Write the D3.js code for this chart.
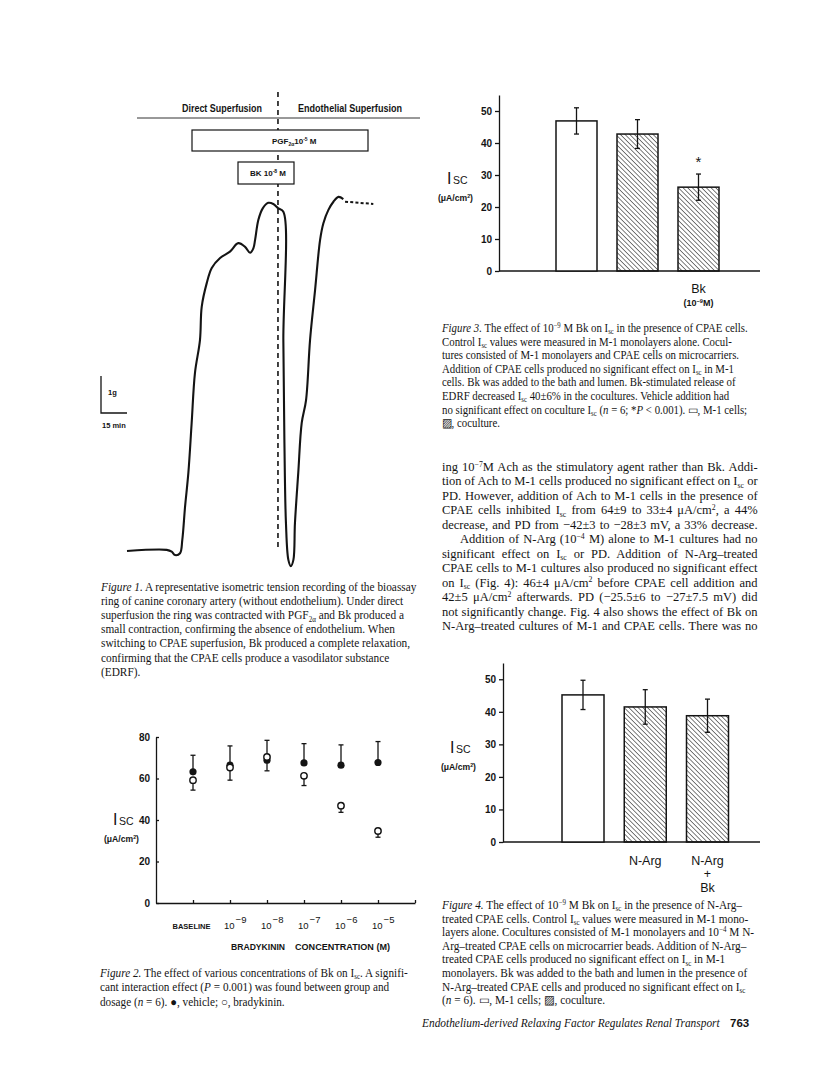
<!DOCTYPE html>
<html>
<head>
<meta charset="utf-8">
<script src="https://cdn.jsdelivr.net/npm/d3@7"></script>
<style>
body { margin: 0; background: #fff; }
svg { display: block; }
</style>
</head>
<body>
<svg id="page" width="816" height="1078"></svg>
<script>
// ---------- data ----------
// Figure 1: tension trace (minutes, grams above baseline)
var traceTime = [0, 22.9, 25.8, 27.7, 30.6, 31.9, 33.5, 35.4, 37.3, 39.2, 42.1, 43.1, 46.0, 48.9, 53.7,
  59.4, 64.2, 68.1, 71.0, 72.9, 73.9, 75.8, 78.3, 81.5, 84.4, 87.3, 90.2, 90.2, 90.8, 91.7,
  93.1, 94.5, 96.0, 96.9, 98.8, 100.8, 103.3, 105.6, 108.5, 111.4, 113.3, 116.2, 119.1, 122.0, 124.8];
var traceTension = [0, 0.03, -0.02, -0.11, -0.06, 0.30, 1.20, 2.11, 3.46, 4.81, 5.70, 6.60, 7.24, 7.65, 7.92,
  8.09, 8.32, 8.22, 8.06, 8.18, 8.41, 8.95, 9.26, 9.41, 9.38, 9.26, 9.17, 5.70, 3.00, 0.76,
  -0.24, -0.41, -0.24, 0.76, 2.11, 3.46, 4.08, 5.70, 7.05, 8.41, 8.86, 9.22, 9.44, 9.57, 9.51];
var tailTime = [125.8, 134.4, 142.1];
var tailTension = [9.44, 9.41, 9.38];
var switchTime = 87.1;

// Figure 2: Isc vs bradykinin concentration
var doseLabels = ["BASELINE", "10^{−9}", "10^{−8}", "10^{−7}", "10^{−6}", "10^{−5}"];
var vehicleMean = [63.2, 66.4, 68.8, 67.5, 66.4, 67.7];
var vehicleSE = [8.0, 9.3, 9.6, 9.3, 9.8, 10.1];
var bkMean = [59.2, 65.3, 70.4, 61.3, 46.9, 34.7];
var bkSE = [4.8, 6.1, 6.7, 4.7, 3.2, 3.0];
var fig2Ticks = [0, 20, 40, 60, 80];

// Figure 3
var fig3Mean = [46.9, 42.8, 26.2];
var fig3SE = [4.1, 4.5, 4.1];
var fig3Hatched = [false, true, true];
var fig3Labels = [[], [], ["Bk"]];

// Figure 4
var fig4Mean = [45.2, 41.5, 38.8];
var fig4SE = [4.5, 5.3, 5.1];
var fig4Hatched = [false, true, true];
var fig4Labels = [[], ["N-Arg"], ["N-Arg", "+", "Bk"]];
var barTicks = [0, 10, 20, 30, 40, 50];

// text on the page
var fig1Caption = [
  "/{Figure 1.} A representative isometric tension recording of the bioassay",
  "ring of canine coronary artery (without endothelium). Under direct",
  "superfusion the ring was contracted with PGF_{2α} and Bk produced a",
  "small contraction, confirming the absence of endothelium. When",
  "switching to CPAE superfusion, Bk produced a complete relaxation,",
  "confirming that the CPAE cells produce a vasodilator substance",
  "(EDRF)."
];
var fig2Caption = [
  "/{Figure 2.} The effect of various concentrations of Bk on I_{sc}. A signifi-",
  "cant interaction effect (/{P} = 0.001) was found between group and",
  "dosage (/{n} = 6). ●, vehicle; ○, bradykinin."
];
var fig3Caption = [
  "/{Figure 3.} The effect of 10^{−9} M Bk on I_{sc} in the presence of CPAE cells.",
  "Control I_{sc} values were measured in M-1 monolayers alone. Cocul-",
  "tures consisted of M-1 monolayers and CPAE cells on microcarriers.",
  "Addition of CPAE cells produced no significant effect on I_{sc} in M-1",
  "cells. Bk was added to the bath and lumen. Bk-stimulated release of",
  "EDRF decreased I_{sc} 40±6% in the cocultures. Vehicle addition had",
  "no significant effect on coculture I_{sc} (/{n} = 6; */{P} < 0.001). ▭, M-1 cells;",
  "▨, coculture."
];
var bodyText = [
  "ing 10^{−7}M Ach as the stimulatory agent rather than Bk. Addi-",
  "tion of Ach to M-1 cells produced no significant effect on I_{sc} or",
  "PD. However, addition of Ach to M-1 cells in the presence of",
  "CPAE cells inhibited I_{sc} from 64±9 to 33±4 μA/cm^{2}, a 44%",
  "decrease, and PD from −42±3 to −28±3 mV, a 33% decrease.",
  "\tAddition of N-Arg (10^{−4} M) alone to M-1 cultures had no",
  "significant effect on I_{sc} or PD. Addition of N-Arg–treated",
  "CPAE cells to M-1 cultures also produced no significant effect",
  "on I_{sc} (Fig. 4): 46±4 μA/cm^{2} before CPAE cell addition and",
  "42±5 μA/cm^{2} afterwards. PD (−25.5±6 to −27±7.5 mV) did",
  "not significantly change. Fig. 4 also shows the effect of Bk on",
  "N-Arg–treated cultures of M-1 and CPAE cells. There was no"
];
var fig4Caption = [
  "/{Figure 4.} The effect of 10^{−9} M Bk on I_{sc} in the presence of N-Arg–",
  "treated CPAE cells. Control I_{sc} values were measured in M-1 mono-",
  "layers alone. Cocultures consisted of M-1 monolayers and 10^{−4} M N-",
  "Arg–treated CPAE cells on microcarrier beads. Addition of N-Arg–",
  "treated CPAE cells produced no significant effect on I_{sc} in M-1",
  "monolayers. Bk was added to the bath and lumen in the presence of",
  "N-Arg–treated CPAE cells and produced no significant effect on I_{sc}",
  "(/{n} = 6). ▭, M-1 cells; ▨, coculture."
];

// ---------- helpers ----------
var svg = d3.select("#page");
var SANS = "'Liberation Sans', Arial, sans-serif";
var SERIF = "'Liberation Serif', 'Times New Roman', serif";
var ink = "#141414";

// _{..} subscript, ^{..} superscript, /{..} italic
function addRich(text, str, size) {
  var cur = 0;
  str.split(/(_\{[^}]*\}|\^\{[^}]*\}|\/\{[^}]*\})/).forEach(function (p) {
    if (!p) return;
    var kind = /^[_^\/]\{/.test(p) ? p[0] : "";
    var s = kind ? p.slice(2, -1) : p;
    var off = kind == "_" ? size * 0.2 : kind == "^" ? -size * 0.33 : 0;
    var t = text.append("tspan").attr("dy", off - cur).text(s);
    cur = off;
    if (kind == "_" || kind == "^") t.attr("font-size", size * 0.62);
    if (kind == "/") t.attr("font-style", "italic");
  });
}

function textBlock(lines, o) {
  var g = svg.append("g").attr("font-family", o.family || SERIF)
    .attr("font-size", o.size).attr("fill", ink);
  if (o.italic) g.attr("font-style", "italic");
  var nodes = lines.map(function (line) {
    var indent = 0, s = line;
    if (s[0] == "\t") { indent = o.indent || 0; s = s.slice(1); }
    var t = g.append("text").attr("x", 0).attr("y", 0);
    addRich(t, s, o.size);
    return { t: t, s: s, indent: indent, w: t.node().getComputedTextLength() };
  });
  // justified blocks: the longest line sets the squeeze, the rest get wider word gaps
  var k = o.justify
    ? d3.min(nodes, function (n) { return (o.width - n.indent) / n.w; })
    : o.width / nodes[0].w;
  nodes.forEach(function (n, i) {
    n.t.attr("transform", "translate(" + (o.x + n.indent) + "," + (o.y + i * o.dy) + ") scale(" + k + ",1)");
    if (o.justify) {
      var spaces = (n.s.match(/ /g) || []).length;
      if (spaces) n.t.attr("word-spacing", ((o.width - n.indent) / k - n.w) / spaces);
    }
  });
}

function label(x, y, str, size, opt) {
  opt = opt || {};
  var t = svg.append("text").attr("x", x).attr("y", y)
    .attr("font-family", opt.family || SANS).attr("font-size", size)
    .attr("font-weight", opt.weight || "bold").attr("fill", ink)
    .attr("text-anchor", opt.anchor || "start");
  addRich(t, str, size);
  if (opt.width) t.attr("textLength", opt.width).attr("lengthAdjust", "spacingAndGlyphs");
  return t;
}

function iscLabel(x, y) {
  var t = svg.append("text").attr("x", x).attr("y", y).attr("font-family", SANS).attr("fill", ink);
  t.append("tspan").attr("font-size", 16).text("I");
  t.append("tspan").attr("font-size", 10.5).attr("dx", 1.5).text("SC");
  label(x - 9, y + 17, "(μA/cm^{2})", 8.6);
}

function styleAxis(g) {
  g.selectAll("path, line").attr("stroke", ink).attr("stroke-width", 1.3);
  g.selectAll("text").attr("font-family", SANS).attr("font-weight", "bold")
    .attr("font-size", 10).attr("fill", ink);
}

// hatch pattern for the coculture bars
svg.append("defs").append("pattern")
  .attr("id", "hatch").attr("patternUnits", "userSpaceOnUse")
  .attr("width", 3.3).attr("height", 3.3).attr("patternTransform", "rotate(-45)")
  .append("line").attr("x1", 0).attr("y1", 0).attr("x2", 0).attr("y2", 3.3)
  .attr("stroke", ink).attr("stroke-width", 1.1);

// ---------- Figure 1 ----------
var x1 = d3.scaleLinear().domain([0, 15]).range([127, 153]);
var y1 = d3.scaleLinear().domain([0, 1]).range([551, 514]);

svg.append("line").attr("x1", 137).attr("x2", 420).attr("y1", 118).attr("y2", 118)
  .attr("stroke", "#333").attr("stroke-width", 1);
label(182, 112, "Direct Superfusion", 10, { width: 80 });
label(298, 112, "Endothelial Superfusion", 10, { width: 104 });

// switch marker first, the drug boxes sit on top of it
svg.append("line")
  .attr("x1", x1(switchTime)).attr("x2", x1(switchTime)).attr("y1", 92).attr("y2", 548)
  .attr("stroke", ink).attr("stroke-width", 1.6).attr("stroke-dasharray", "5,4");

svg.append("rect").attr("x", 192).attr("y", 130).attr("width", 176).attr("height", 21)
  .attr("fill", "#fff").attr("stroke", ink).attr("stroke-width", 1.2);
svg.append("rect").attr("x", 238).attr("y", 162).attr("width", 56).attr("height", 22)
  .attr("fill", "#fff").attr("stroke", ink).attr("stroke-width", 1.2);

label(272, 144, "PGF_{2α}10^{-5} M", 8);
label(250, 176, "BK 10^{-8} M", 8);

var traceLine = d3.line().curve(d3.curveCatmullRom.alpha(0.5))
  .x(function (d) { return x1(d[0]); }).y(function (d) { return y1(d[1]); });
svg.append("path").datum(d3.zip(traceTime, traceTension))
  .attr("d", traceLine).attr("fill", "none").attr("stroke", ink)
  .attr("stroke-width", 2.1).attr("stroke-linejoin", "round");
svg.append("path").datum(d3.zip(tailTime, tailTension))
  .attr("d", d3.line().x(function (d) { return x1(d[0]); }).y(function (d) { return y1(d[1]); }))
  .attr("fill", "none").attr("stroke", ink).attr("stroke-width", 2).attr("stroke-dasharray", "3,2.2");

// scale bar: 1 g by 15 min
var barX = 101, barY = 413;
svg.append("path")
  .attr("d", "M" + barX + "," + (barY - (y1(0) - y1(1))) + "V" + barY + "H" + (barX + x1(15) - x1(0)))
  .attr("fill", "none").attr("stroke", ink).attr("stroke-width", 1.3);
label(108, 395, "1g", 7.5);
label(102, 428, "15 min", 7.5);

textBlock(fig1Caption, { x: 101, y: 591, dy: 14.1, size: 12, width: 316 });

// ---------- Figure 2 ----------
var x2 = d3.scaleLinear().domain([0, 7]).range([156, 415]);
var y2 = d3.scaleLinear().domain([0, 80]).range([903, 737]);

svg.append("g").attr("transform", "translate(156,0)")
  .call(d3.axisLeft(y2).tickValues(fig2Ticks).tickSize(-3).tickSizeOuter(0).tickPadding(6))
  .call(styleAxis);
svg.append("g").attr("transform", "translate(0,903)")
  .call(d3.axisBottom(x2).tickValues(d3.range(1, 8)).tickSize(-3).tickSizeOuter(0).tickFormat(""))
  .call(styleAxis);

var doseIdx = d3.range(doseLabels.length);
var cap = 2.5;
function errBar(g, x, yEnd, yStart) {
  g.append("line").attr("x1", x).attr("x2", x).attr("y1", yStart).attr("y2", yEnd);
  g.append("line").attr("x1", x - cap).attr("x2", x + cap).attr("y1", yEnd).attr("y2", yEnd);
}
var eb2 = svg.append("g").attr("stroke", ink).attr("stroke-width", 1.3);
doseIdx.forEach(function (i) {
  errBar(eb2, x2(i + 1), y2(vehicleMean[i] + vehicleSE[i]), y2(vehicleMean[i]));
  errBar(eb2, x2(i + 1), y2(bkMean[i] - bkSE[i]), y2(bkMean[i]));
});
svg.append("g").selectAll("circle").data(doseIdx).join("circle")
  .attr("cx", function (i) { return x2(i + 1); })
  .attr("cy", function (i) { return y2(vehicleMean[i]); })
  .attr("r", 3.6).attr("fill", ink);
svg.append("g").selectAll("circle").data(doseIdx).join("circle")
  .attr("cx", function (i) { return x2(i + 1); })
  .attr("cy", function (i) { return y2(bkMean[i]); })
  .attr("r", 3.2).attr("fill", "#fff").attr("stroke", ink).attr("stroke-width", 1.4);

doseIdx.forEach(function (i) {
  if (i == 0) {
    label(x2(i + 1) - 1.5, 929, doseLabels[i], 8, { anchor: "middle", width: 38 });
  } else {
    var t = svg.append("text").attr("x", x2(i + 1) - 6).attr("y", 929)
      .attr("font-family", SANS).attr("font-size", 9.5).attr("fill", ink);
    t.append("tspan").text("10");
    t.append("tspan").attr("dy", -6).attr("dx", 1).attr("font-size", 9.5)
      .text(doseLabels[i].replace(/^10\^\{(.*)\}$/, "$1"));
  }
});
label(231, 950, "BRADYKININ", 9, { width: 54 });
label(295, 950, "CONCENTRATION (M)", 9, { width: 95 });
iscLabel(113, 825);

textBlock(fig2Caption, { x: 100, y: 977, dy: 14.3, size: 12, width: 308 });

// ---------- bar charts (Figures 3 and 4) ----------
function barChart(o) {
  var y = d3.scaleLinear().domain([0, 55]).range([o.base, o.top]);
  var x = d3.scaleLinear().domain([0, 2]).range(o.centers);
  svg.append("g").attr("transform", "translate(" + o.axisX + ",0)")
    .call(d3.axisLeft(y).tickValues(barTicks).tickSize(4).tickSizeOuter(0).tickPadding(3))
    .call(styleAxis);
  svg.append("line").attr("x1", o.axisX).attr("x2", o.right).attr("y1", y(0)).attr("y2", y(0))
    .attr("stroke", ink).attr("stroke-width", 1.3);

  var idx = d3.range(o.mean.length);
  svg.append("g").selectAll("rect").data(idx).join("rect")
    .attr("x", function (i) { return x(i) - o.barW / 2; })
    .attr("y", function (i) { return y(o.mean[i]); })
    .attr("width", o.barW)
    .attr("height", function (i) { return y(0) - y(o.mean[i]); })
    .attr("fill", function (i) { return o.hatched[i] ? "url(#hatch)" : "#fff"; })
    .attr("stroke", ink).attr("stroke-width", 1.5);

  var eb = svg.append("g").attr("stroke", ink).attr("stroke-width", 1.3);
  idx.forEach(function (i) {
    var xi = x(i), hi = y(o.mean[i] + o.se[i]), lo = y(o.mean[i] - o.se[i]);
    eb.append("line").attr("x1", xi).attr("x2", xi).attr("y1", hi).attr("y2", lo);
    eb.append("line").attr("x1", xi - cap).attr("x2", xi + cap).attr("y1", hi).attr("y2", hi);
    eb.append("line").attr("x1", xi - cap).attr("x2", xi + cap).attr("y1", lo).attr("y2", lo);
    o.labels[i].forEach(function (s, j) {
      svg.append("text").attr("x", xi).attr("y", y(0) + o.labelDy + j * 13.3)
        .attr("text-anchor", "middle").attr("font-family", SANS)
        .attr("font-size", 12.5).attr("fill", ink).text(s);
    });
  });
  return { x: x, y: y };
}

var f3 = barChart({ base: 271, top: 95, axisX: 499, right: 760, centers: [576.5, 698.5],
  barW: 41, mean: fig3Mean, se: fig3SE, hatched: fig3Hatched, labels: fig3Labels, labelDy: 22 });
svg.append("text").attr("x", f3.x(2)).attr("y", f3.y(fig3Mean[2] + fig3SE[2]) - 7)
  .attr("text-anchor", "middle").attr("font-family", SANS).attr("font-size", 15).attr("fill", ink).text("*");
label(f3.x(2), 306, "(10^{−9}M)", 9, { anchor: "middle" });
iscLabel(447, 184);

textBlock(fig3Caption, { x: 442, y: 332, dy: 13.6, size: 11.8, width: 306 });
textBlock(bodyText, { x: 442, y: 471, dy: 14.45, size: 13, width: 316, justify: true, indent: 18 });

var f4 = barChart({ base: 842, top: 663, axisX: 503, right: 760, centers: [583, 707.5],
  barW: 42, mean: fig4Mean, se: fig4SE, hatched: fig4Hatched, labels: fig4Labels, labelDy: 23 });
iscLabel(450, 753);

textBlock(fig4Caption, { x: 442, y: 909, dy: 13.6, size: 11.8, width: 300 });

// running footer
textBlock(["Endothelium-derived Relaxing Factor Regulates Renal Transport"],
  { x: 422, y: 1027, dy: 0, size: 13, width: 298, italic: true });
label(730, 1027, "763", 11.5);
</script>
</body>
</html>
